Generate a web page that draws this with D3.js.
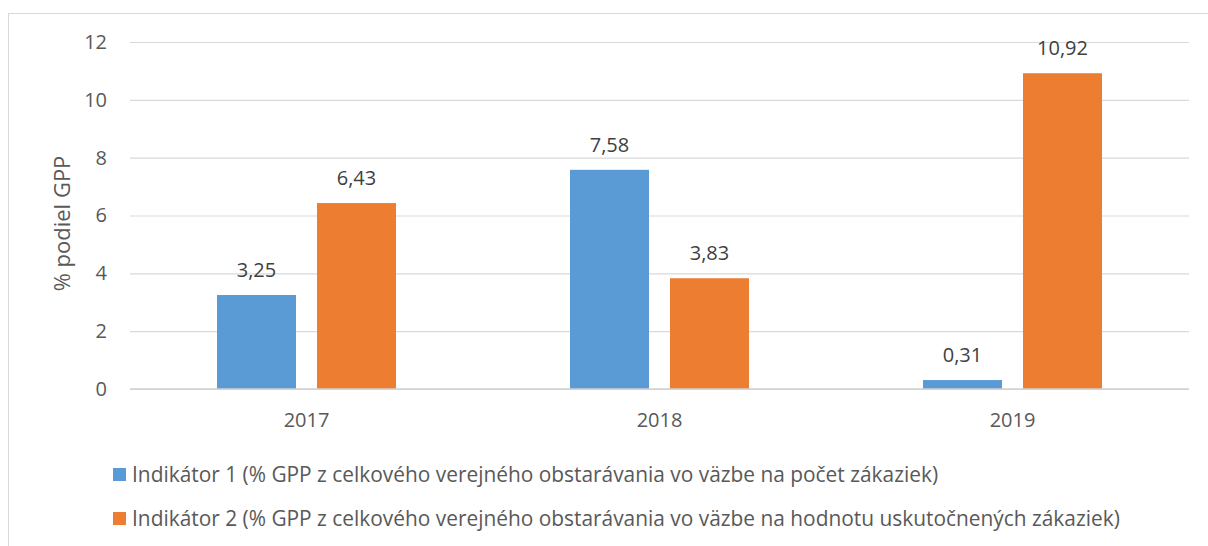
<!DOCTYPE html>
<html>
<head>
<meta charset="utf-8">
<script src="https://cdn.jsdelivr.net/npm/d3@7"></script>
<style>
  html, body { margin: 0; padding: 0; background: #fff; }
  svg { display: block; font-family: "Open Sans", sans-serif; }
</style>
</head>
<body>
<svg id="chart" width="1208" height="546"></svg>
<script>
// Years on the category axis
const years = ["2017", "2018", "2019"];
// Indikátor 1 – share by number of contracts
const indicator1 = [3.25, 7.58, 0.31];
// Indikátor 2 – share by value of contracts
const indicator2 = [6.43, 3.83, 10.92];
// Legend texts
const seriesNames = [
  "Indikátor 1 (% GPP z celkového verejného obstarávania vo väzbe na počet zákaziek)",
  "Indikátor 2 (% GPP z celkového verejného obstarávania vo väzbe na hodnotu uskutočnených zákaziek)"
];
const yTicks = [0, 2, 4, 6, 8, 10, 12];
const yTitle = "% podiel GPP";

const colors = ["#5b9bd5", "#ed7d31"];
const series = [indicator1, indicator2];
const FONT = "20px";

const svg = d3.select("#chart");

// outer chart frame (extends past the bottom/right edges)
svg.append("rect")
  .attr("x", 8.5).attr("y", 13.5)
  .attr("width", 1220).attr("height", 560)
  .attr("fill", "none").attr("stroke", "#d9d9d9").attr("stroke-width", 1);

const plot = { left: 130, right: 1189, top: 42, bottom: 389 };

const x = d3.scaleBand().domain(years).range([plot.left, plot.right]);
const y = d3.scaleLinear().domain([0, 12]).range([plot.bottom, plot.top]);

// two bars per year, 21% gap between them
const inner = d3.scaleBand().domain([0, 1]).range([0, x.bandwidth()])
  .paddingInner(0.21).paddingOuter(0.87);

// gridlines + tick labels
const yAxis = d3.axisLeft(y).tickValues(yTicks)
  .tickSize(-(plot.right - plot.left)).tickFormat(d => d).tickPadding(23);
const gy = svg.append("g").attr("transform", `translate(${plot.left},0)`).call(yAxis);
gy.select(".domain").remove();
gy.selectAll(".tick line").attr("stroke", "#d9d9d9").attr("stroke-width", 1.2);
gy.selectAll(".tick text").attr("fill", "#595959")
  .style("font-size", FONT).style("font-family", "'Open Sans', sans-serif");

// bars and value labels
series.forEach((vals, si) => {
  const data = years.map((yr, i) => ({ yr, v: vals[i] }));
  svg.append("g").selectAll("rect")
    .data(data)
    .join("rect")
    .attr("x", d => x(d.yr) + inner(si))
    .attr("width", inner.bandwidth())
    .attr("y", d => y(d.v))
    .attr("height", d => y(0) - y(d.v))
    .attr("fill", colors[si]);

  svg.append("g").selectAll("text")
    .data(data)
    .join("text")
    .attr("x", d => x(d.yr) + inner(si) + inner.bandwidth() / 2)
    .attr("y", d => y(d.v) - 18)
    .attr("text-anchor", "middle")
    .attr("fill", "#404040")
    .style("font-size", FONT)
    .text(d => d3.format(".2f")(d.v).replace(".", ","));
});

// baseline
svg.append("line")
  .attr("x1", plot.left).attr("x2", plot.right)
  .attr("y1", y(0)).attr("y2", y(0))
  .attr("stroke", "#d0d0d0").attr("stroke-width", 1.5);

// category labels
const xAxis = d3.axisBottom(x).tickSize(0).tickPadding(24);
const gx = svg.append("g").attr("transform", `translate(0,${plot.bottom})`).call(xAxis);
gx.select(".domain").remove();
gx.selectAll(".tick text").attr("fill", "#595959")
  .style("font-size", FONT).style("font-family", "'Open Sans', sans-serif");

// y axis title
svg.append("text")
  .attr("transform", `translate(70,${(plot.top + plot.bottom) / 2 + 8}) rotate(-90)`)
  .attr("text-anchor", "middle")
  .attr("fill", "#595959")
  .style("font-size", "22px")
  .text(yTitle);

// legend
const legendY = [474.5, 518.5];
const legendTexts = [];
seriesNames.forEach((name, i) => {
  const g = svg.append("g").attr("transform", `translate(113,${legendY[i]})`);
  g.append("rect").attr("x", 0).attr("y", -6.5).attr("width", 13).attr("height", 13).attr("fill", colors[i]);
  legendTexts.push(g.append("text").attr("x", 19).attr("y", 7)
    .attr("fill", "#595959").style("font-size", FONT).text(name));
});
// size legend font so the first entry spans ~807px
const w = legendTexts[0].node().getComputedTextLength();
const fs = 20 * 807 / w;
legendTexts.forEach(t => t.style("font-size", fs + "px"));
</script>
</body>
</html>
